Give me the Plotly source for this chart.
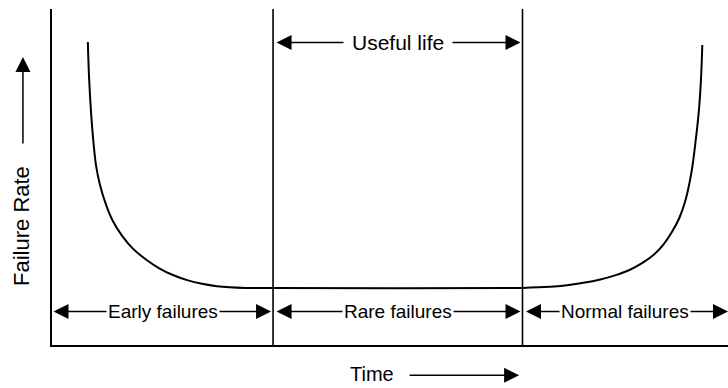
import plotly.graph_objects as go

# Bathtub curve: failure rate over the life of a product
# time on a 0-100 scale, failure rate on a 0-100 scale
early_t = [5.3, 5.5, 5.8, 6.1, 6.5, 7.1, 8.0, 9.0, 10.4, 12.0, 14.0, 15.8, 17.8, 20.0, 22.2, 24.4, 28.6, 32.7]
early_rate = [90.2, 78.9, 68.5, 61.0, 53.6, 47.6, 41.7, 36.9, 32.4, 28.6, 25.3, 22.9, 20.9, 19.3, 18.2, 17.5, 17.0, 17.0]

wear_t = [69.6, 73.7, 76.2, 78.6, 81.1, 83.4, 85.5, 87.4, 89.1, 90.5, 91.7, 92.8, 93.7, 94.6, 95.2, 95.7, 96.0, 96.2]
wear_rate = [17.0, 17.3, 17.8, 18.5, 19.5, 20.8, 22.4, 24.5, 27.0, 30.0, 33.6, 37.8, 43.0, 51.5, 60.5, 69.9, 78.9, 89.3]

# phase boundaries along the time axis
phase_edges = [0.0, 32.7, 69.6, 100.0]
phase_labels = ["Early failures", "Rare failures", "Normal failures"]
useful_life_label = "Useful life"
x_title = "Time"
y_title = "Failure Rate"

FAMILY = "Liberation Sans, Arial, sans-serif"
INK = "black"


def font(size):
    return dict(family=FAMILY, size=size, color=INK)


fig = go.Figure()
fig.add_trace(go.Scatter(
    x=early_t + wear_t,
    y=early_rate + wear_rate,
    mode="lines",
    line=dict(color=INK, width=2, shape="spline", smoothing=1.0),
    hoverinfo="skip",
    showlegend=False,
))

shapes = []
for edge in phase_edges[1:3]:
    shapes.append(dict(type="line", xref="x", yref="paper", x0=edge, x1=edge, y0=0, y1=1,
                       line=dict(color=INK, width=1.6)))

annotations = []
row_y = 10
head_style = dict(showarrow=True, text="", arrowhead=2, startarrowhead=2,
                  arrowsize=2, startarrowsize=2, arrowwidth=1.5, arrowcolor=INK)
data_arrow = dict(axref="x", ayref="y", xref="x", yref="y", **head_style)

# double-headed arrows spanning each phase
for i, label in enumerate(phase_labels):
    a, b = phase_edges[i], phase_edges[i + 1]
    annotations.append(dict(x=b, y=row_y, ax=a, ay=row_y, arrowside="end+start",
                            startstandoff=(0 if i == 0 else 2), standoff=(0 if i == 2 else 2),
                            **data_arrow))
# useful life arrow across the middle phase
mid_a, mid_b = phase_edges[1], phase_edges[2]
annotations.append(dict(x=mid_b, y=90, ax=mid_a, ay=90, arrowside="end+start",
                        startstandoff=2, standoff=2, **data_arrow))

# axis direction arrows, placed in paper space outside the plot area
annotations.append(dict(xref="paper", yref="paper", x=0.691, y=-0.09, ax=-111, ay=0,
                        arrowside="end", standoff=0, **head_style))
annotations.append(dict(xref="paper", yref="paper", x=-0.043, y=0.857, ax=0, ay=88,
                        arrowside="end", standoff=0, **head_style))

# labels, masking the arrow shafts behind them
for i, label in enumerate(phase_labels):
    a, b = phase_edges[i], phase_edges[i + 1]
    annotations.append(dict(x=(a + b) / 2, y=row_y, text=label, showarrow=False,
                            bgcolor="white", borderpad=1, font=font(19)))
annotations.append(dict(x=(mid_a + mid_b) / 2, y=90, text=useful_life_label, showarrow=False,
                        bgcolor="white", borderpad=8, font=font(21)))
annotations.append(dict(xref="paper", yref="paper", x=0.473, y=-0.087, text=x_title,
                        xanchor="center", yanchor="middle", showarrow=False, font=font(20)))
annotations.append(dict(xref="paper", yref="paper", x=-0.045, y=0.353, text=y_title,
                        xanchor="center", yanchor="middle", textangle=-90,
                        showarrow=False, font=font(22)))

axis_style = dict(showgrid=False, zeroline=False, showticklabels=False, ticks="",
                  showline=True, linewidth=2, linecolor=INK, fixedrange=True)

fig.update_layout(
    width=728, height=388,
    margin=dict(l=52, r=0, t=9, b=43, pad=0),
    paper_bgcolor="white", plot_bgcolor="white",
    xaxis=dict(range=[0, 100], **axis_style),
    yaxis=dict(range=[0, 100], **axis_style),
    shapes=shapes,
    annotations=annotations,
    font=font(19),
)

fig.write_html("out.html")
